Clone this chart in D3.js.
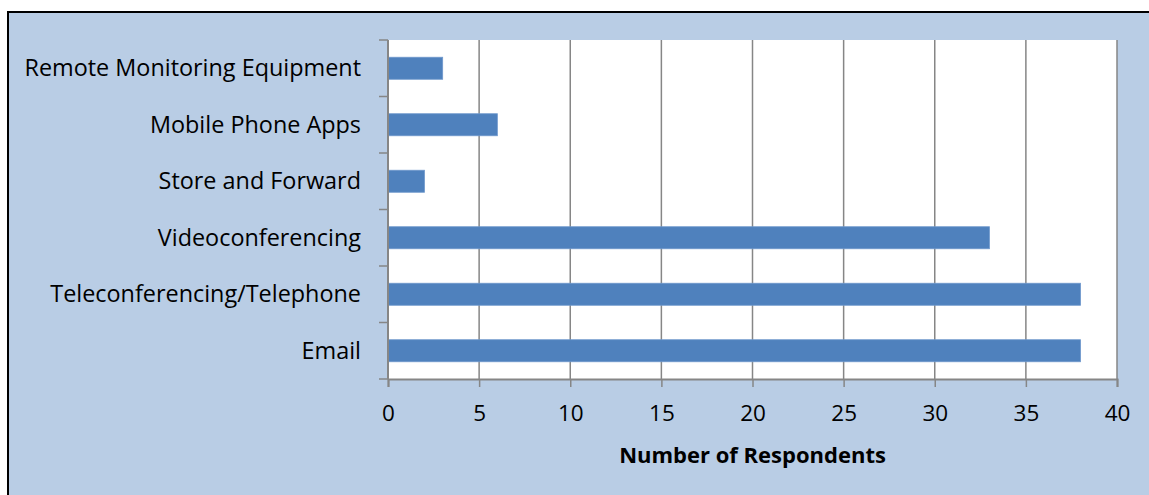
<!DOCTYPE html>
<html>
<head>
<meta charset="utf-8">
<script src="https://cdn.jsdelivr.net/npm/d3@7"></script>
<style>
  html, body { margin: 0; padding: 0; background: #ffffff; }
  svg { display: block; }
  text { font-family: "Open Sans", "Noto Sans", sans-serif; fill: #000; }
</style>
</head>
<body>
<svg id="chart" width="1149" height="495"></svg>
<script>
// Survey: technologies used, number of respondents
const categories = [
  "Remote Monitoring Equipment",
  "Mobile Phone Apps",
  "Store and Forward",
  "Videoconferencing",
  "Teleconferencing/Telephone",
  "Email"
];
const respondents = [3, 6, 2, 33, 38, 38];
const xTicks = [0, 5, 10, 15, 20, 25, 30, 35, 40];
const xTitle = "Number of Respondents";

const svg = d3.select("#chart");
const W = 1149, H = 495;

// chart area background, running off the right and bottom edges
svg.append("rect")
  .attr("x", 8).attr("y", 12)
  .attr("width", W - 8).attr("height", H - 12)
  .attr("fill", "#b9cde5");
// frame edge on the left and top
svg.append("path")
  .attr("d", `M8,${H} V12 H${W}`)
  .attr("fill", "none")
  .attr("stroke", "#000").attr("stroke-width", 2);

const plot = { left: 388, right: 1117, top: 40, bottom: 379 };

const x = d3.scaleLinear().domain([0, 40]).range([plot.left, plot.right]);
const y = d3.scaleBand().domain(categories).range([plot.top, plot.bottom]);

// plot background
svg.append("rect")
  .attr("x", plot.left).attr("y", plot.top)
  .attr("width", plot.right - plot.left).attr("height", plot.bottom - plot.top)
  .attr("fill", "#ffffff");

// vertical gridlines
svg.append("g")
  .selectAll("line")
  .data(xTicks.slice(1))
  .join("line")
  .attr("x1", d => x(d)).attr("x2", d => x(d))
  .attr("y1", plot.top).attr("y2", plot.bottom)
  .attr("stroke", "#868686").attr("stroke-width", 1.5);

// bars
const barH = y.bandwidth() * 0.39;
svg.append("g")
  .selectAll("rect")
  .data(categories)
  .join("rect")
  .attr("x", x(0))
  .attr("y", d => y(d) + (y.bandwidth() - barH) / 2)
  .attr("width", (d, i) => x(respondents[i]) - x(0))
  .attr("height", barH)
  .attr("fill", "#4f81bd")
  .attr("stroke", "#6f98cc").attr("stroke-width", 0.8);

// x axis
const xAxis = d3.axisBottom(x).tickValues(xTicks).tickSize(8).tickPadding(18);
const gx = svg.append("g")
  .attr("transform", `translate(0,${plot.bottom})`)
  .call(xAxis);
gx.select(".domain").attr("stroke", "#868686").attr("stroke-width", 2);
gx.selectAll(".tick line").attr("stroke", "#868686").attr("stroke-width", 1.5);
gx.selectAll(".tick text")
  .style("font-family", "\"Open Sans\", sans-serif")
  .style("font-size", "22.5px").attr("fill", "#000");

// y axis (ticks at category boundaries)
const gy = svg.append("g");
gy.append("line")
  .attr("x1", plot.left).attr("x2", plot.left)
  .attr("y1", plot.top).attr("y2", plot.bottom)
  .attr("stroke", "#868686").attr("stroke-width", 2);
const bounds = categories.map(d => y(d)).concat([plot.bottom]);
gy.selectAll("line.tk")
  .data(bounds)
  .join("line").attr("class", "tk")
  .attr("x1", plot.left - 9).attr("x2", plot.left)
  .attr("y1", d => d).attr("y2", d => d)
  .attr("stroke", "#868686").attr("stroke-width", 1.5);
gy.selectAll("text")
  .data(categories)
  .join("text")
  .attr("x", plot.left - 27)
  .attr("y", d => y(d) + y.bandwidth() / 2)
  .attr("dy", "0.35em")
  .attr("text-anchor", "end")
  .style("font-size", "23.4px")
  .text(d => d);

// axis title
svg.append("text")
  .attr("x", (plot.left + plot.right) / 2)
  .attr("y", 463)
  .attr("text-anchor", "middle")
  .style("font-size", "22px")
  .style("font-weight", "bold")
  .text(xTitle);
</script>
</body>
</html>
